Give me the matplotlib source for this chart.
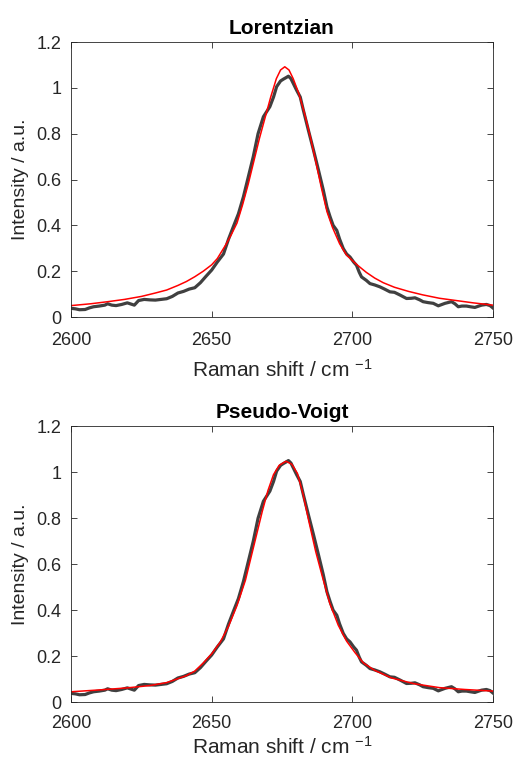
import matplotlib
matplotlib.use("Agg")
import matplotlib.pyplot as plt

plt.rcParams['font.family'] = ['Liberation Sans', 'DejaVu Sans']
plt.rcParams['mathtext.fontset'] = 'custom'
plt.rcParams['mathtext.rm'] = 'Liberation Sans'
plt.rcParams['mathtext.it'] = 'Liberation Sans'

# measured spectrum (same data on both panels)
shift = [2600, 2601.5, 2603, 2605, 2606.5, 2608, 2610, 2612, 2613, 2614.5,
         2616, 2618, 2620, 2621.5, 2622.5, 2624, 2626, 2628, 2630, 2632,
         2634, 2636, 2638, 2640, 2642, 2644, 2646, 2648, 2650, 2652,
         2654.2, 2656, 2657.7, 2659.5, 2661.3, 2663, 2664.8, 2666.5, 2668.4, 2670.7,
         2672, 2673.1, 2674.5, 2675.5, 2676.5, 2677.3, 2678.2, 2679.2, 2680.2, 2681.5,
         2682.6, 2684.4, 2686.2, 2688, 2689.7, 2691, 2692.1, 2693.2, 2694.5, 2695.5,
         2696.8, 2698, 2699.2, 2700.5, 2701.5, 2702.5, 2703.3, 2705, 2706.3, 2708,
         2709.8, 2711.5, 2713.4, 2715, 2717, 2719.3, 2721, 2722.3, 2724, 2725.2,
         2727, 2728.8, 2730.6, 2733, 2735.3, 2736.5, 2737.7, 2739, 2740.6, 2742,
         2743.6, 2745, 2746, 2747.7, 2749, 2750]
intensity = [0.038, 0.036, 0.032, 0.033, 0.040, 0.045, 0.048, 0.052, 0.058, 0.052,
             0.050, 0.055, 0.062, 0.056, 0.052, 0.072, 0.077, 0.075, 0.074, 0.077,
             0.080, 0.090, 0.105, 0.112, 0.122, 0.128, 0.150, 0.178, 0.205, 0.240,
             0.275, 0.340, 0.394, 0.450, 0.525, 0.610, 0.700, 0.800, 0.874, 0.918,
             0.960, 1.005, 1.030, 1.038, 1.045, 1.051, 1.040, 1.015, 0.990, 0.960,
             0.903, 0.815, 0.729, 0.640, 0.554, 0.480, 0.438, 0.400, 0.378, 0.340,
             0.299, 0.275, 0.262, 0.240, 0.226, 0.195, 0.175, 0.160, 0.146, 0.140,
             0.132, 0.122, 0.110, 0.108, 0.096, 0.081, 0.082, 0.084, 0.075, 0.067,
             0.063, 0.060, 0.049, 0.060, 0.067, 0.058, 0.045, 0.048, 0.048, 0.045,
             0.042, 0.048, 0.052, 0.055, 0.050, 0.040]

# Lorentzian fit
lor_x = [2600, 2607, 2613, 2619, 2625, 2630, 2634, 2638, 2641, 2644,
         2647, 2650, 2652, 2655, 2657, 2659, 2661, 2663, 2665, 2667,
         2669, 2671, 2673, 2674.5, 2676, 2677.5, 2679, 2681, 2683, 2685,
         2687, 2689, 2691, 2693, 2695.5, 2698, 2701.5, 2705, 2708, 2711,
         2715, 2720, 2725, 2731, 2737, 2743, 2750]
lor_y = [0.050, 0.058, 0.067, 0.077, 0.090, 0.105, 0.118, 0.138, 0.155, 0.176,
         0.200, 0.228, 0.255, 0.315, 0.360, 0.410, 0.490, 0.580, 0.680, 0.780,
         0.870, 0.960, 1.040, 1.078, 1.092, 1.078, 1.040, 0.975, 0.890, 0.790,
         0.680, 0.565, 0.460, 0.390, 0.320, 0.270, 0.230, 0.195, 0.170, 0.150,
         0.130, 0.112, 0.097, 0.082, 0.072, 0.062, 0.052]

# Pseudo-Voigt fit
pv_x = [2600, 2610, 2620, 2628, 2634, 2638, 2641, 2644, 2647, 2650,
        2653, 2656, 2659, 2662, 2665, 2668, 2670, 2672, 2674, 2676.4,
        2678.5, 2680.5, 2682.5, 2684.5, 2687, 2689.5, 2692, 2695, 2698, 2701,
        2704, 2708, 2714, 2722, 2731, 2740, 2750]
pv_y = [0.045, 0.053, 0.062, 0.072, 0.085, 0.102, 0.115, 0.135, 0.170, 0.210,
        0.260, 0.330, 0.420, 0.530, 0.680, 0.830, 0.920, 0.990, 1.030, 1.048,
        1.035, 0.995, 0.905, 0.790, 0.655, 0.540, 0.430, 0.335, 0.265, 0.215,
        0.170, 0.138, 0.105, 0.080, 0.063, 0.055, 0.048]

xticks = [2600, 2650, 2700, 2750]
yticks = [0, 0.2, 0.4, 0.6, 0.8, 1, 1.2]
ytick_labels = ['0', '0.2', '0.4', '0.6', '0.8', '1', '1.2']

txt = '#262626'
fig = plt.figure(figsize=(5.15, 7.64), dpi=100)
ax1 = fig.add_axes([0.138, 0.585, 0.819, 0.360])
ax2 = fig.add_axes([0.138, 0.081, 0.819, 0.361])

for ax, fx, fy, title, lpad in [(ax1, lor_x, lor_y, 'Lorentzian', 7),
                                (ax2, pv_x, pv_y, 'Pseudo-Voigt', 3)]:
    ax.plot(shift, intensity, color='#404040', lw=2.3, solid_joinstyle='round')
    ax.plot(fx, fy, color='#ff0000', lw=1.1)
    ax.set_xlim(2600, 2750)
    ax.set_ylim(0, 1.2)
    ax.set_xticks(xticks)
    ax.set_yticks(yticks)
    ax.set_yticklabels(ytick_labels)
    ax.tick_params(direction='in', top=True, right=True, length=4, width=0.6,
                   colors='#262626', labelsize=13, labelcolor=txt)
    ax.tick_params(axis='x', pad=11 if ax is ax1 else 9)
    ax.tick_params(axis='y', pad=7)
    for s in ax.spines.values():
        s.set_color('#262626')
        s.set_linewidth(0.6)
    ax.set_title(title, fontsize=15, fontweight='bold', color='black', pad=6)
    ax.set_xlabel('Raman shift / cm $^{-1}$', fontsize=15, color=txt, labelpad=lpad)
    ax.set_ylabel('Intensity / a.u.', fontsize=14, color=txt, labelpad=5)

fig.savefig('out.png', dpi=100)
